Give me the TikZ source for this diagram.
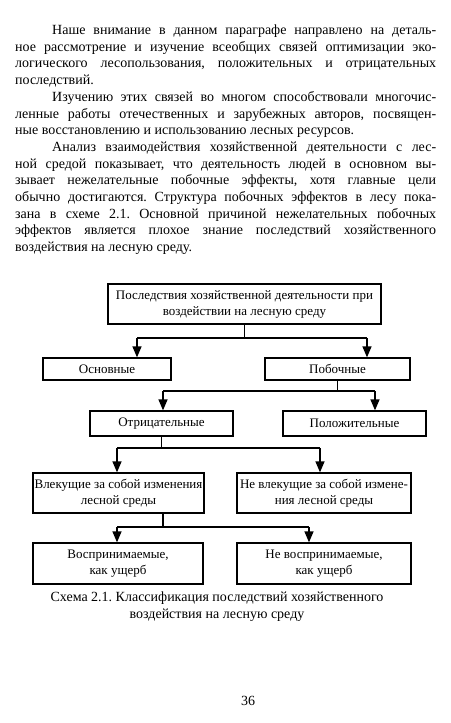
\documentclass[tikz,border=0pt]{standalone}
\usepackage{fontspec}
\setmainfont{Liberation Serif}
\usetikzlibrary{arrows.meta}
\frenchspacing
\begin{document}
\begin{tikzpicture}[x=1pt,y=-1pt,
  box/.style={draw,line width=1.25pt,inner sep=0.5pt,align=center,font=\fontsize{13}{16}\selectfont},
  conn/.style={line width=1.25pt},
  arr/.style={conn,-{Triangle[length=11pt,width=9pt]}},
  bl/.style={anchor=base west,inner sep=0pt,font=\fontsize{14}{16.5}\selectfont},
  capt/.style={inner sep=0pt,align=center,font=\fontsize{14}{17.5}\selectfont}
]
\useasboundingbox (0,0) rectangle (450,723);
\fill[white] (0,0) rectangle (450,723);
% body text
\node[bl] (t1) at (52,34.5) {\makebox[384pt][s]{Наше внимание в данном параграфе направлено на деталь-}};
\node[bl] (t2) at (15,51.2) {\makebox[421pt][s]{ное рассмотрение и изучение всеобщих связей оптимизации эко-}};
\node[bl] (t3) at (15,67.9) {\makebox[421pt][s]{логического лесопользования, положительных и отрицательных}};
\node[bl] (t4) at (15,84.6) {последствий.};
\node[bl] (t5) at (52,101.3) {\makebox[384pt][s]{Изучению этих связей во многом способствовали многочис-}};
\node[bl] (t6) at (15,118.0) {\makebox[421pt][s]{ленные работы отечественных и зарубежных авторов, посвящен-}};
\node[bl] (t7) at (15,134.7) {ные восстановлению и использованию лесных ресурсов.};
\node[bl] (t8) at (52,151.4) {\makebox[384pt][s]{Анализ взаимодействия хозяйственной деятельности с лес-}};
\node[bl] (t9) at (15,168.1) {\makebox[421pt][s]{ной средой показывает, что деятельность людей в основном вы-}};
\node[bl] (t10) at (15,184.8) {\makebox[421pt][s]{зывает нежелательные побочные эффекты, хотя главные цели}};
\node[bl] (t11) at (15,201.5) {\makebox[421pt][s]{обычно достигаются. Структура побочных эффектов в лесу пока-}};
\node[bl] (t12) at (15,218.2) {\makebox[421pt][s]{зана в схеме 2.1. Основной причиной нежелательных побочных}};
\node[bl] (t13) at (15,234.9) {\makebox[421pt][s]{эффектов является плохое знание последствий хозяйственного}};
\node[bl] (t14) at (15,251.6) {воздействия на лесную среду.};
% boxes
\node[box,minimum width=273pt,minimum height=40pt] (top) at (244.5,304) {Последствия хозяйственной деятельности при\\воздействии на лесную среду};
\node[box,minimum width=128pt,minimum height=22pt] (osn) at (107,369) {Основные};
\node[box,minimum width=145pt,minimum height=22pt] (pob) at (337.5,369) {Побочные};
\node[box,minimum width=143pt,minimum height=25pt] (otr) at (161.5,423.5) {Отрицательные};
\node[box,minimum width=143pt,minimum height=25pt] (pol) at (354.5,423.5) {Положительные};
\node[box,minimum width=171pt,minimum height=40pt] (vl) at (118.5,493) {Влекущие за собой изменения\\лесной среды};
\node[box,minimum width=174pt,minimum height=40pt] (nvl) at (324,493) {Не влекущие за собой измене-\\ния лесной среды};
\node[box,minimum width=170pt,minimum height=41pt] (vos) at (118,563.5) {Воспринимаемые,\\как ущерб};
\node[box,minimum width=174pt,minimum height=41pt] (nvos) at (324,563.5) {Не воспринимаемые,\\как ущерб};
% connectors
\coordinate (b1l) at (137,338); \coordinate (b1r) at (367,338);
\draw[conn] (top.south) -- (top.south |- b1l);
\draw[conn] (b1l) -- (b1r);
\draw[arr] (b1l) -- (b1l |- osn.north);
\draw[arr] (b1r) -- (b1r |- pob.north);
\coordinate (b2l) at (163,391); \coordinate (b2r) at (375,391);
\draw[conn] (pob.south) -- (pob.south |- b2l);
\draw[conn] (b2l) -- (b2r);
\draw[arr] (b2l) -- (b2l |- otr.north);
\draw[arr] (b2r) -- (b2r |- pol.north);
\coordinate (b3l) at (117,448); \coordinate (b3r) at (320,448);
\draw[conn] (otr.south) -- (otr.south |- b3l);
\draw[conn] (b3l) -- (b3r);
\draw[arr] (b3l) -- (b3l |- vl.north);
\draw[arr] (b3r) -- (b3r |- nvl.north);
\coordinate (b4l) at (117,527); \coordinate (b4r) at (309,527); \coordinate (s4) at (163,527);
\draw[conn] (vl.south -| s4) -- (s4);
\draw[conn] (b4l) -- (b4r);
\draw[arr] (b4l) -- (b4l |- vos.north);
\draw[arr] (b4r) -- (b4r |- nvos.north);
% caption and page number
\node[capt] (cap) at (217,606.5) {Схема 2.1. Классификация последствий хозяйственного\\воздействия на лесную среду};
\node[capt] (pg) at (248,701) {36};
\end{tikzpicture}
\end{document}
